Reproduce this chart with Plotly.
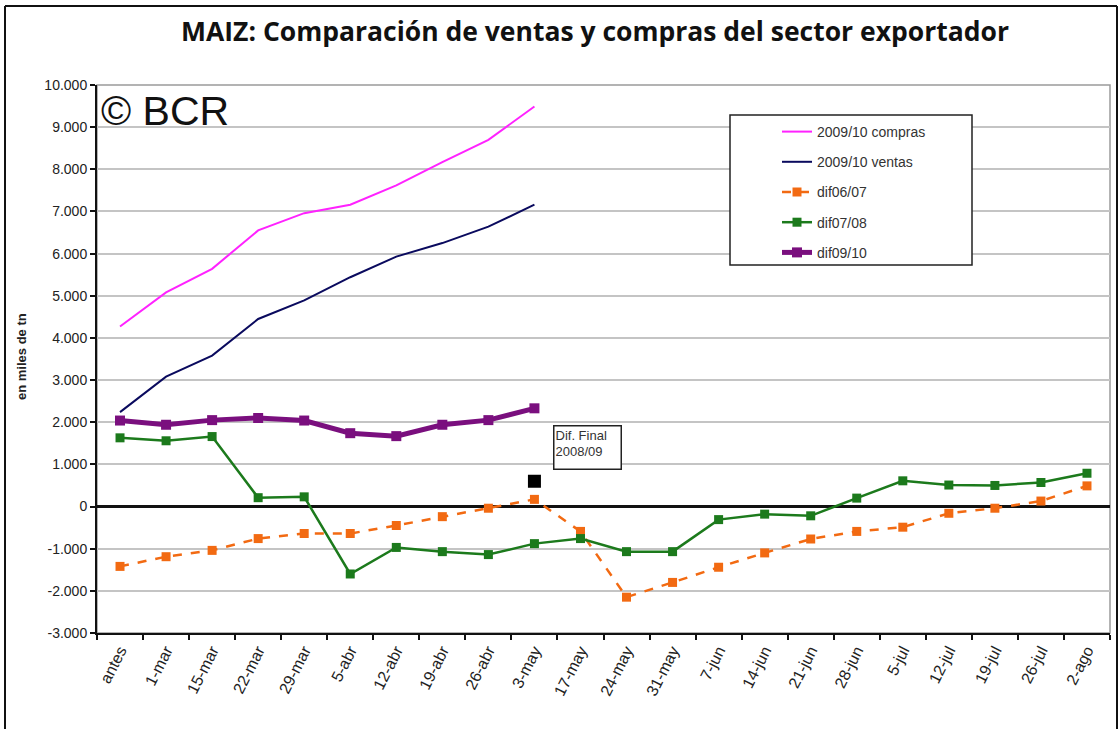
import plotly.graph_objects as go

categories = ["antes", "1-mar", "15-mar", "22-mar", "29-mar", "5-abr", "12-abr", "19-abr",
              "26-abr", "3-may", "17-may", "24-may", "31-may", "7-jun", "14-jun", "21-jun",
              "28-jun", "5-jul", "12-jul", "19-jul", "26-jul", "2-ago"]

compras_0910 = [4270, 5080, 5640, 6550, 6960, 7160, 7620, 8170, 8700, 9490]
ventas_0910 = [2240, 3080, 3580, 4450, 4890, 5440, 5930, 6250, 6640, 7160]
dif0607 = [-1420, -1190, -1040, -760, -640, -640, -450, -240, -40, 170, -590,
           -2150, -1800, -1440, -1100, -770, -590, -490, -160, -40, 130, 490]
dif0708 = [1630, 1560, 1660, 210, 230, -1600, -970, -1070, -1140, -880, -760,
           -1070, -1070, -310, -180, -220, 200, 610, 510, 500, 570, 790]
dif0910 = [2040, 1940, 2050, 2100, 2040, 1740, 1670, 1940, 2050, 2330]
dif_final_0809_cat = ["3-may"]
dif_final_0809 = [600]

y_ticks = [10000, 9000, 8000, 7000, 6000, 5000, 4000, 3000, 2000, 1000, 0, -1000, -2000, -3000]
y_tick_labels = ["10.000", "9.000", "8.000", "7.000", "6.000", "5.000", "4.000", "3.000",
                 "2.000", "1.000", "0", "-1.000", "-2.000", "-3.000"]

W, H = 1120, 729
L, R, T, B = 97, 10, 85, 96
pw, ph = W - L - R, H - T - B


def px(xp):
    return (xp - L) / pw


def py(yp):
    return (H - B - yp) / ph


font = "Liberation Sans, Arial, sans-serif"

fig = go.Figure()
fig.add_trace(go.Scatter(x=categories[:len(compras_0910)], y=compras_0910, name="2009/10 compras",
                         mode="lines", line=dict(color="#FF22FF", width=2), legendgroup="a"))
fig.add_trace(go.Scatter(x=categories[:len(ventas_0910)], y=ventas_0910, name="2009/10 ventas",
                         mode="lines", line=dict(color="#0A0A5E", width=2), legendgroup="b"))
fig.add_trace(go.Scatter(x=categories, y=dif0607, name="dif06/07", mode="lines+markers",
                         line=dict(color="#F26A12", width=2.5, dash="dash"),
                         marker=dict(symbol="square", size=9, color="#F26A12"), legendgroup="c"))
fig.add_trace(go.Scatter(x=categories, y=dif0708, name="dif07/08", mode="lines+markers",
                         line=dict(color="#1C7A1C", width=2.5),
                         marker=dict(symbol="square", size=9, color="#1C7A1C"), legendgroup="d"))
fig.add_trace(go.Scatter(x=categories[:len(dif0910)], y=dif0910, name="dif09/10", mode="lines+markers",
                         line=dict(color="#7A0F7E", width=5),
                         marker=dict(symbol="square", size=10, color="#7A0F7E"), legendgroup="e"))
fig.add_trace(go.Scatter(x=dif_final_0809_cat, y=dif_final_0809, name="Dif. Final 2008/09",
                         mode="markers", marker=dict(symbol="square", size=13, color="black"),
                         showlegend=False))

shapes = [
    # plot area border
    dict(type="rect", xref="paper", yref="paper", x0=0, x1=1, y0=0, y1=1,
         line=dict(color="#9A9A9A", width=1.5), layer="below"),
    # legend box
    dict(type="rect", xref="paper", yref="paper", x0=px(730), x1=px(972), y0=py(265), y1=py(115),
         line=dict(color="#222222", width=1.5), fillcolor="white", layer="above"),
    # outer frame
    dict(type="line", xref="paper", yref="paper", x0=px(5), x1=px(5), y0=py(735), y1=py(6),
         line=dict(color="#111111", width=2)),
    dict(type="line", xref="paper", yref="paper", x0=px(5), x1=px(1117), y0=py(6), y1=py(6),
         line=dict(color="#111111", width=2)),
    dict(type="line", xref="paper", yref="paper", x0=px(1117), x1=px(1117), y0=py(735), y1=py(6),
         line=dict(color="#111111", width=2)),
]

annotations = [
    dict(text="© BCR", xref="paper", yref="paper", x=px(99), y=py(86), xanchor="left", yanchor="top",
         showarrow=False, font=dict(family=font, size=41, color="#111111")),
    dict(text="Dif. Final<br>2008/09", xref="paper", yref="paper", x=px(553), y=py(425),
         xanchor="left", yanchor="top", showarrow=False, align="left", valign="top",
         width=64, height=40, bordercolor="#222222", borderwidth=1.5, borderpad=1, bgcolor="white",
         font=dict(family=font, size=13, color="#333333")),
    dict(text="<b>en miles de tn</b>", xref="paper", yref="paper", x=px(21), y=py(357),
         xanchor="center", yanchor="middle", textangle=-90, showarrow=False,
         font=dict(family=font, size=13, color="#222222")),
]

fig.update_layout(
    width=W, height=H,
    margin=dict(l=L, r=R, t=T, b=B, pad=0),
    paper_bgcolor="white", plot_bgcolor="white",
    title=dict(text="<b>MAIZ: Comparación de ventas y compras del sector exportador</b>",
               x=595 / W, xref="container", xanchor="center", y=1 - 32 / H, yref="container",
               yanchor="middle", font=dict(family="Open Sans, sans-serif", size=26.5, color="#111111")),
    showlegend=True,
    legend=dict(x=px(777), y=py(116), xanchor="left", yanchor="top", bgcolor="rgba(0,0,0,0)",
                borderwidth=0, font=dict(family=font, size=14, color="#333333"),
                tracegroupgap=9, itemwidth=30),
    shapes=shapes, annotations=annotations,
    xaxis=dict(type="category", categoryorder="array", categoryarray=categories,
               range=[-0.5, len(categories) - 0.5], showgrid=False, showline=True,
               linecolor="#111111", linewidth=2, ticks="outside", tickson="boundaries",
               ticklen=5, tickwidth=2, tickcolor="#111111", tickangle=-63,
               tickfont=dict(family=font, size=16, color="#222222"), fixedrange=True),
    yaxis=dict(range=[-3000, 10000], tickvals=y_ticks, ticktext=y_tick_labels,
               showgrid=True, gridcolor="#C4C4C4", gridwidth=2,
               zeroline=True, zerolinecolor="#111111", zerolinewidth=2.5,
               showline=True, linecolor="#111111", linewidth=2, ticks="outside",
               ticklen=5, tickwidth=2, tickcolor="#111111",
               tickfont=dict(family=font, size=14, color="#222222"), fixedrange=True),
)

fig.write_html("out.html", config={"displayModeBar": False},
               post_script="document.body.style.margin='0';")
